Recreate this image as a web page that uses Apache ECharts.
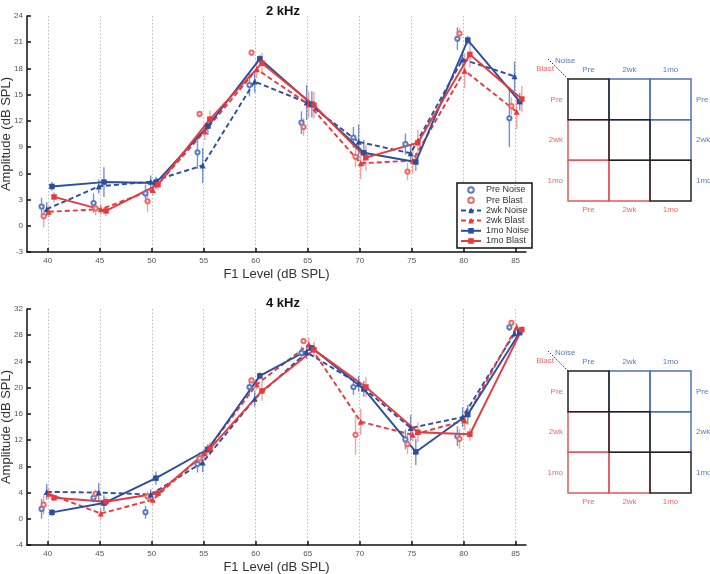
<!DOCTYPE html>
<html><head><meta charset="utf-8">
<script src="https://cdn.jsdelivr.net/npm/echarts@6/dist/echarts.min.js"></script>
<style>html,body{margin:0;padding:0;background:#fff}#c{width:710px;height:574px}</style>
</head><body><div id="c"></div>
<script>
// ---------- DATA ----------
const levels = [40, 45, 50, 55, 60, 65, 70, 75, 80, 85];
const seriesNames = ['Pre Noise', 'Pre Blast', '2wk Noise', '2wk Blast', '1mo Noise', '1mo Blast'];
const panelTitles = ['2 kHz', '4 kHz'];
const xAxisTitle = 'F1 Level (dB SPL)';
const yAxisTitle = 'Amplitude (dB SPL)';
const timepoints = ['Pre', '2wk', '1mo'];
const groupNames = ['Noise', 'Blast'];

// 2 kHz
const preNoise2k     = [2.2, 2.6, 3.7, 8.4, 16.1, 11.8, 10.1, 9.35, 21.4, 12.3];
const preNoise2kErr  = [1.0, 1.1, 1.0, 1.9, 1.3, 1.3, 1.2, 1.2, 1.3, 3.3];
const preBlast2k     = [1.1, 2.0, 2.8, 12.8, 19.8, 11.3, 7.9, 6.2, 22.0, 13.7];
const preBlast2kErr  = [1.3, 0.8, 1.2, 0.3, 0.3, 1.0, 1.2, 1.0, 0.6, 1.0];
const wk2Noise2k     = [1.9, 4.5, 5.05, 6.9, 16.5, 14.1, 9.6, 8.3, 19.05, 17.1];
const wk2Noise2kErr  = [0.8, 0.8, 0.7, 2.0, 1.3, 2.0, 2.0, 1.0, 1.0, 1.7];
const wk2Blast2k     = [1.6, 1.9, 4.1, 10.8, 17.9, 13.9, 7.15, 7.45, 17.75, 13.05];
const wk2Blast2kErr  = [0.6, 0.6, 0.6, 1.0, 1.0, 1.5, 1.8, 1.5, 2.0, 2.0];
const mo1Noise2k     = [4.5, 5.0, 4.9, 11.4, 19.1, 13.9, 8.35, 7.3, 21.25, 14.2];
const mo1Noise2kErr  = [0.5, 1.7, 0.7, 1.0, 0.4, 1.5, 1.5, 1.0, 0.5, 1.0];
const mo1Blast2k     = [3.3, 1.7, 4.7, 12.2, 18.6, 13.8, 7.8, 9.5, 19.6, 14.5];
const mo1Blast2kErr  = [0.6, 0.6, 0.6, 1.0, 1.2, 1.5, 1.5, 1.5, 1.5, 1.5];

// 4 kHz
const preNoise4k     = [1.5, 3.2, 1.0, 8.35, 20.1, 25.3, 20.1, 12.1, 12.6, 29.2];
const preNoise4kErr  = [1.5, 0.7, 1.0, 1.3, 1.2, 1.0, 1.2, 1.5, 1.5, 0.5];
const preBlast4k     = [2.15, 3.8, 3.4, 9.2, 21.1, 27.1, 12.8, 11.4, 12.2, 29.9];
const preBlast4kErr  = [1.5, 0.7, 0.8, 1.0, 0.4, 0.4, 3.0, 1.5, 1.5, 0.4];
const wk2Noise4k     = [4.1, 4.0, 3.7, 8.6, 18.3, 25.4, 20.6, 13.85, 15.5, 28.3];
const wk2Noise4kErr  = [1.2, 1.5, 0.8, 1.5, 1.2, 1.0, 1.2, 2.0, 1.5, 0.6];
const wk2Blast4k     = [3.8, 0.8, 2.9, 10.0, 20.5, 26.6, 14.8, 12.8, 15.0, 29.25];
const wk2Blast4kErr  = [0.8, 0.8, 0.8, 1.0, 0.8, 1.0, 2.0, 1.0, 1.5, 0.6];
const mo1Noise4k     = [0.97, 2.4, 6.2, 10.6, 21.8, 26.05, 19.8, 10.2, 15.9, 28.4];
const mo1Noise4kErr  = [0.5, 1.2, 1.0, 0.8, 0.5, 0.5, 1.2, 2.0, 1.5, 0.5];
const mo1Blast4k     = [3.2, 2.6, 3.9, 10.7, 19.5, 25.8, 20.1, 13.2, 12.9, 28.85];
const mo1Blast4kErr  = [0.5, 0.7, 0.7, 1.0, 1.5, 1.2, 1.5, 1.5, 1.0, 0.5];

// ---------- STYLE ----------
const FONT = 'Liberation Sans, Arial, Helvetica, sans-serif';
const BLUE = '#2b4e9d', RED = '#e63a3e';
const BLUE_L = '#5a7cc0', RED_L = '#ec6a6a';
const BLUE_ERR = 'rgba(70,110,190,0.75)', RED_ERR = 'rgba(236,100,100,0.6)';
const jitter = [-0.6, -0.4, -0.1, 0.1, 0.4, 0.6];
const panels = [
  [[preNoise2k, preNoise2kErr], [preBlast2k, preBlast2kErr], [wk2Noise2k, wk2Noise2kErr],
   [wk2Blast2k, wk2Blast2kErr], [mo1Noise2k, mo1Noise2kErr], [mo1Blast2k, mo1Blast2kErr]],
  [[preNoise4k, preNoise4kErr], [preBlast4k, preBlast4kErr], [wk2Noise4k, wk2Noise4kErr],
   [wk2Blast4k, wk2Blast4kErr], [mo1Noise4k, mo1Noise4kErr], [mo1Blast4k, mo1Blast4kErr]]
];
const styles = [
  {color: BLUE_L, err: BLUE_ERR, symbol: 'emptyCircle', size: 4.2, line: null},
  {color: RED_L, err: RED_ERR, symbol: 'emptyCircle', size: 4.2, line: null},
  {color: BLUE, err: BLUE_ERR, symbol: 'triangle', size: 6, line: [5, 3]},
  {color: RED, err: RED_ERR, symbol: 'triangle', size: 6, line: [5, 3]},
  {color: BLUE, err: BLUE_ERR, symbol: 'rect', size: 5.5, line: 'solid'},
  {color: RED, err: RED_ERR, symbol: 'rect', size: 5.5, line: 'solid'}
];

const gridsMain = [
  {left: 27, top: 16, width: 499, height: 236, outerBoundsMode: 'none', containLabel: false},
  {left: 27, top: 309, width: 499, height: 236, outerBoundsMode: 'none', containLabel: false}
];
const gridsDiag = [
  {left: 568, top: 79, width: 123, height: 122, outerBoundsMode: 'none', containLabel: false},
  {left: 568, top: 371, width: 123, height: 122, outerBoundsMode: 'none', containLabel: false}
];
const yRanges = [{min: -3, max: 24, interval: 3}, {min: -4, max: 32, interval: 4}];

const xAxes = [], yAxes = [], series = [];
gridsMain.forEach((g, i) => {
  xAxes.push({
    gridIndex: i, type: 'value', min: 38, max: 86, position: 'bottom',
    axisLine: {onZero: false, lineStyle: {color: '#111', width: 1.5}},
    axisTick: {inside: true, length: 4, customValues: levels, lineStyle: {color: '#111', width: 1.5}},
    axisLabel: {customValues: levels, fontSize: 8, color: '#555', margin: 5, fontFamily: FONT},
    splitLine: {show: true, lineStyle: {type: [1.5, 2], color: '#bbb', width: 1}},
    name: xAxisTitle, nameLocation: 'middle', nameGap: 16, nameMoveOverlap: false,
    nameTextStyle: {fontSize: 13, color: '#333', fontFamily: FONT}
  });
  yAxes.push(Object.assign({
    gridIndex: i, type: 'value', position: 'left',
    axisLine: {show: true, onZero: false, lineStyle: {color: '#111', width: 1.5}},
    axisTick: {show: true, inside: true, length: 4, lineStyle: {color: '#111', width: 1.5}},
    axisLabel: {fontSize: 8, color: '#555', margin: 4, fontFamily: FONT},
    splitLine: {show: false},
    name: yAxisTitle, nameLocation: 'middle', nameGap: 14, nameMoveOverlap: false,
    nameTextStyle: {fontSize: 13, color: '#333', fontFamily: FONT}
  }, yRanges[i]));
});
gridsDiag.forEach((g, k) => {
  const gi = 2 + k;
  const cat = (pos, color) => ({
    gridIndex: gi, type: 'category', data: timepoints, position: pos,
    axisLine: {show: false, onZero: false}, axisTick: {show: false}, splitLine: {show: false},
    axisLabel: {color: color, fontSize: 8, margin: 5, fontFamily: FONT}
  });
  xAxes.push(cat('top', BLUE_L));
  xAxes.push(cat('bottom', RED_L));
  const ya = cat('left', RED_L); ya.inverse = true;
  const yb = cat('right', BLUE_L); yb.inverse = true;
  yAxes.push(ya); yAxes.push(yb);
});

function errRender(params, api) {
  const x = api.value(0), y = api.value(1), e = api.value(2);
  const p1 = api.coord([x, y + e]), p2 = api.coord([x, y - e]);
  return {type: 'line', shape: {x1: p1[0], y1: p1[1], x2: p2[0], y2: p2[1]},
          style: {stroke: api.visual('color'), lineWidth: 1.4}};
}

panels.forEach((panel, pi) => {
  panel.forEach((d, si) => {
    const st = styles[si];
    series.push({
      type: 'custom', name: 'err-' + seriesNames[si], xAxisIndex: pi, yAxisIndex: pi,
      renderItem: errRender, itemStyle: {color: st.err}, z: 1, silent: true,
      encode: {x: 0, y: 1},
      data: levels.map((l, j) => [l + jitter[si], d[0][j], d[1][j]])
    });
  });
  panel.forEach((d, si) => {
    const st = styles[si];
    series.push({
      type: 'line', name: seriesNames[si], xAxisIndex: pi, yAxisIndex: pi,
      symbol: st.symbol, symbolSize: st.size, showSymbol: true, z: 2,
      itemStyle: {color: st.color, borderWidth: 0.8},
      lineStyle: st.line ? {color: st.color, width: 1.9, type: st.line} : {opacity: 0, width: 1},
      emphasis: {disabled: true},
      data: levels.map((l, j) => [l + jitter[si], d[0][j]])
    });
  });
});

const cells = [];
timepoints.forEach((a, r) => timepoints.forEach((b, c) => { if (r !== c) cells.push([c, r]); }));
timepoints.forEach((a, r) => cells.push([r, r]));

gridsDiag.forEach((g, k) => {
  series.push({
    type: 'custom', name: 'cells' + k, xAxisIndex: 2 + 2 * k, yAxisIndex: 2 + 2 * k, silent: true,
    renderItem: (params, api) => {
      const c = api.value(0), r = api.value(1);
      const p = api.coord([c, r]), s = api.size([1, 1]);
      const col = c > r ? '#4f72b8' : (c < r ? '#e0585c' : '#222');
      return {type: 'rect', shape: {x: p[0] - s[0] / 2, y: p[1] - s[1] / 2, width: s[0], height: s[1]},
              style: {fill: 'none', stroke: col, lineWidth: 1.5}};
    },
    data: cells
  });
  series.push({
    type: 'custom', name: 'corner' + k, xAxisIndex: 2 + 2 * k, yAxisIndex: 2 + 2 * k, silent: true,
    renderItem: (params, api) => {
      const p = api.coord([api.value(0), api.value(1)]), s = api.size([1, 1]);
      const x0 = p[0] - s[0] / 2, y0 = p[1] - s[1] / 2;
      return {type: 'group', children: [
        {type: 'line', shape: {x1: x0, y1: y0, x2: x0 - 20, y2: y0 - 20},
         style: {stroke: '#222', lineWidth: 1, lineDash: [1.5, 1.5]}},
        {type: 'text', x: x0 - 13, y: y0 - 18,
         style: {text: groupNames[0], fill: BLUE_L, font: '8px ' + FONT, align: 'left', verticalAlign: 'middle'}},
        {type: 'text', x: x0 - 14, y: y0 - 10,
         style: {text: groupNames[1], fill: RED_L, font: '8px ' + FONT, align: 'right', verticalAlign: 'middle'}}
      ]};
    },
    data: [[0, 0]]
  });
});

const option = {
  animation: false,
  backgroundColor: '#fff',
  textStyle: {fontFamily: FONT},
  title: [
    {text: panelTitles[0], left: 261, top: 0, textStyle: {fontSize: 13, fontWeight: 'bold', color: '#111', fontFamily: FONT}},
    {text: panelTitles[1], left: 261, top: 292, textStyle: {fontSize: 13, fontWeight: 'bold', color: '#111', fontFamily: FONT}}
  ],
  legend: {
    data: seriesNames, orient: 'vertical', left: 457, top: 183,
    itemWidth: 20, itemHeight: 7, itemGap: 0.2, padding: [2, 3, 2, 3],
    borderColor: '#111', borderWidth: 1.5, backgroundColor: '#fff',
    textStyle: {fontSize: 9, color: '#333', lineHeight: 10, fontFamily: FONT},
    selectedMode: false
  },
  grid: gridsMain.concat(gridsDiag),
  xAxis: xAxes,
  yAxis: yAxes,
  series: series
};
const chart = echarts.init(document.getElementById('c'));
chart.setOption(option);
</script>
</body></html>
